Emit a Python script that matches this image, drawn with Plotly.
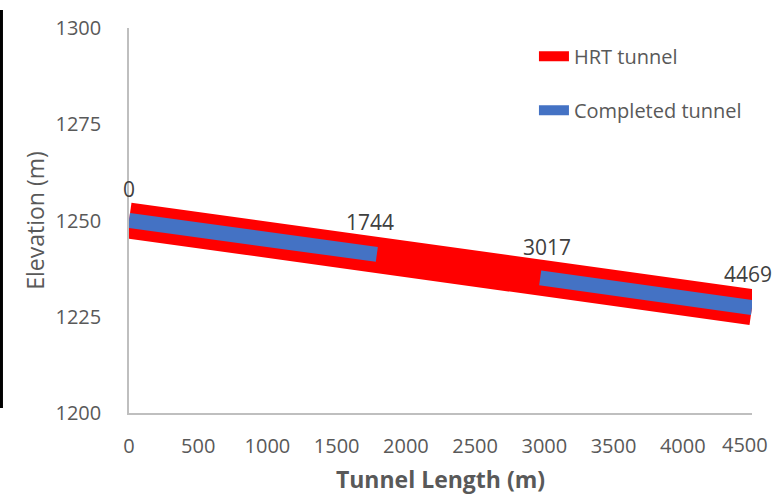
import plotly.graph_objects as go

# HRT tunnel alignment (chainage m, elevation m)
hrt_x = [0, 4500]
hrt_y = [1250, 1227.5]

# Completed tunnel segments (gap between them)
done_x = [0, 1790, None, 2970, 4500]
done_y = [1250, 1241.2, None, 1235.1, 1227.4]

# Chainage labels
label_x = [0, 1744, 3017, 4469]
label_y = [1250, 1241.3, 1234.9, 1227.7]
label_text = ["0", "1744", "3017", "4469"]

x_ticks = [0, 500, 1000, 1500, 2000, 2500, 3000, 3500, 4000, 4500]
y_ticks = [1200, 1225, 1250, 1275, 1300]

FONT = "Open Sans"
GREY = "#595959"

fig = go.Figure()
fig.add_trace(go.Scatter(x=hrt_x, y=hrt_y, mode="lines", name="HRT tunnel",
                         legendgroup="a",
                         line=dict(color="#FF0000", width=36)))
fig.add_trace(go.Scatter(x=done_x, y=done_y, mode="lines", name="Completed tunnel",
                         legendgroup="b",
                         line=dict(color="#4472C4", width=15)))

for lx, ly, lt in zip(label_x, label_y, label_text):
    fig.add_annotation(x=lx, y=ly, text=lt, showarrow=False, yshift=32,
                       font=dict(family=FONT, size=21, color="#404040"))

# last x tick label (plotly hides it because it runs past the page edge)
fig.add_annotation(x=x_ticks[-1], y=0, xref="x", yref="paper", text=str(x_ticks[-1]),
                   showarrow=False, xanchor="right", yanchor="middle",
                   xshift=18, yshift=-31,
                   font=dict(family=FONT, size=20, color=GREY))

fig.add_shape(type="line", xref="paper", yref="paper",
              x0=-0.2047, x1=-0.2047, y0=0.013, y1=1.047,
              line=dict(color="black", width=3))

fig.update_layout(
    width=773, height=497,
    margin=dict(l=129, r=21, t=28, b=84),
    paper_bgcolor="white", plot_bgcolor="white",
    font=dict(family=FONT, size=20, color=GREY),
    legend=dict(x=0.650, y=0.977, xanchor="left", yanchor="top",
                font=dict(family=FONT, size=20, color=GREY),
                tracegroupgap=25, bgcolor="rgba(0,0,0,0)"),
    xaxis=dict(range=[0, 4500], tickvals=x_ticks[:-1], showgrid=False, zeroline=False,
               showline=True, linecolor="#BFBFBF", linewidth=1.5, ticks="",
               ticklabelstandoff=14, automargin=False,
               tickfont=dict(family=FONT, size=20, color=GREY),
               title=dict(text="<b>Tunnel Length (m)</b>", standoff=14,
                          font=dict(family=FONT, size=23, color=GREY))),
    yaxis=dict(range=[1200, 1300], tickvals=y_ticks, showgrid=False, zeroline=False,
               showline=True, linecolor="#BFBFBF", linewidth=1.5, ticks="",
               ticklabelstandoff=22, automargin=False,
               tickfont=dict(family=FONT, size=20, color=GREY),
               title=dict(text="Elevation (m)", standoff=4,
                          font=dict(family=FONT, size=23, color=GREY))),
)

fig.write_html("out.html", config={"displayModeBar": False},
               post_script="document.body.style.margin='0';")
